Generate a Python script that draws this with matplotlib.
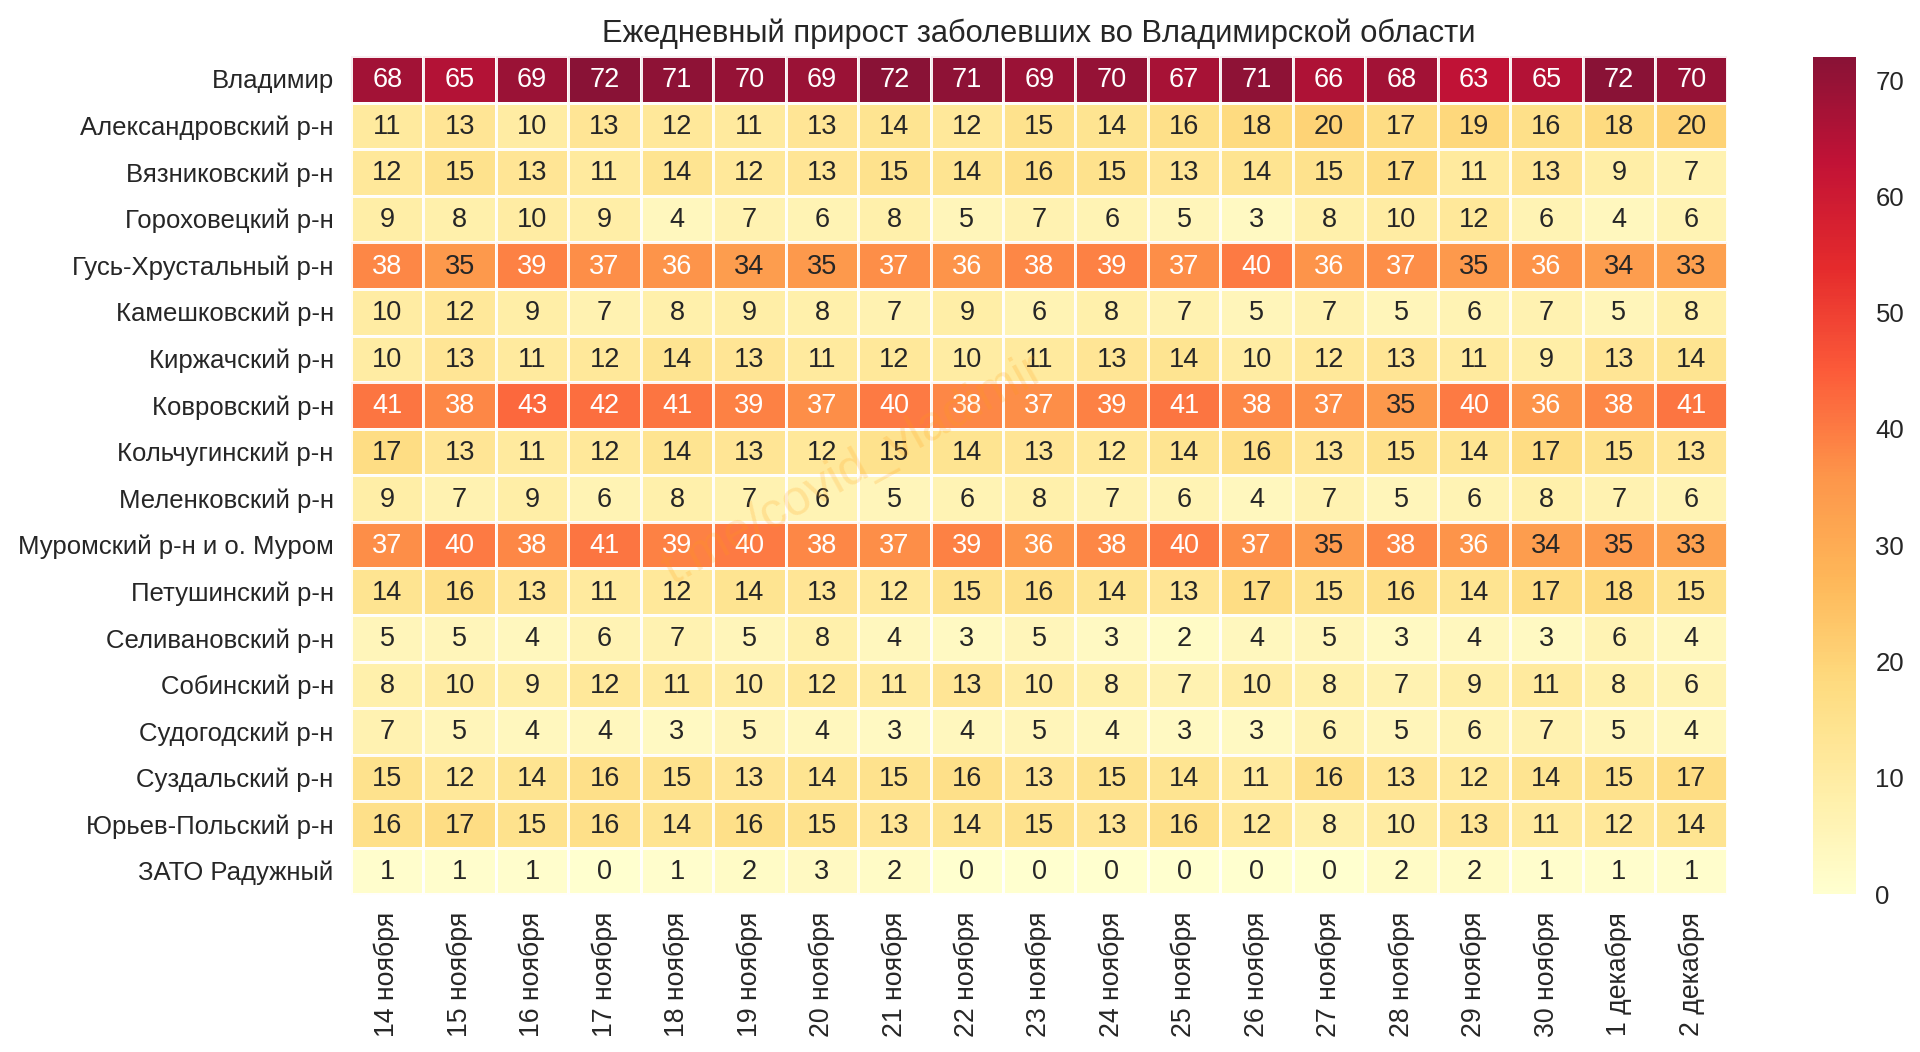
import matplotlib
matplotlib.use("Agg")
import matplotlib.pyplot as plt
from matplotlib.transforms import ScaledTranslation
import seaborn as sns
import numpy as np

districts = ["Владимир", "Александровский р-н", "Вязниковский р-н", "Гороховецкий р-н",
             "Гусь-Хрустальный р-н", "Камешковский р-н", "Киржачский р-н", "Ковровский р-н",
             "Кольчугинский р-н", "Меленковский р-н", "Муромский р-н и о. Муром",
             "Петушинский р-н", "Селивановский р-н", "Собинский р-н", "Судогодский р-н",
             "Суздальский р-н", "Юрьев-Польский р-н", "ЗАТО Радужный"]
dates = ["14 ноября", "15 ноября", "16 ноября", "17 ноября", "18 ноября", "19 ноября",
         "20 ноября", "21 ноября", "22 ноября", "23 ноября", "24 ноября", "25 ноября",
         "26 ноября", "27 ноября", "28 ноября", "29 ноября", "30 ноября", "1 декабря", "2 декабря"]

vladimir   = [68,65,69,72,71,70,69,72,71,69,70,67,71,66,68,63,65,72,70]
aleksandr  = [11,13,10,13,12,11,13,14,12,15,14,16,18,20,17,19,16,18,20]
vyazniki   = [12,15,13,11,14,12,13,15,14,16,15,13,14,15,17,11,13,9,7]
gorokhovets= [9,8,10,9,4,7,6,8,5,7,6,5,3,8,10,12,6,4,6]
gus        = [38,35,39,37,36,34,35,37,36,38,39,37,40,36,37,35,36,34,33]
kameshkovo = [10,12,9,7,8,9,8,7,9,6,8,7,5,7,5,6,7,5,8]
kirzhach   = [10,13,11,12,14,13,11,12,10,11,13,14,10,12,13,11,9,13,14]
kovrov     = [41,38,43,42,41,39,37,40,38,37,39,41,38,37,35,40,36,38,41]
kolchugino = [17,13,11,12,14,13,12,15,14,13,12,14,16,13,15,14,17,15,13]
melenki    = [9,7,9,6,8,7,6,5,6,8,7,6,4,7,5,6,8,7,6]
murom      = [37,40,38,41,39,40,38,37,39,36,38,40,37,35,38,36,34,35,33]
petushki   = [14,16,13,11,12,14,13,12,15,16,14,13,17,15,16,14,17,18,15]
selivanovo = [5,5,4,6,7,5,8,4,3,5,3,2,4,5,3,4,3,6,4]
sobinka    = [8,10,9,12,11,10,12,11,13,10,8,7,10,8,7,9,11,8,6]
sudogda    = [7,5,4,4,3,5,4,3,4,5,4,3,3,6,5,6,7,5,4]
suzdal     = [15,12,14,16,15,13,14,15,16,13,15,14,11,16,13,12,14,15,17]
yuryev     = [16,17,15,16,14,16,15,13,14,15,13,16,12,8,10,13,11,12,14]
raduzhny   = [1,1,1,0,1,2,3,2,0,0,0,0,0,0,2,2,1,1,1]

values = np.array([vladimir, aleksandr, vyazniki, gorokhovets, gus, kameshkovo, kirzhach,
                   kovrov, kolchugino, melenki, murom, petushki, selivanovo, sobinka,
                   sudogda, suzdal, yuryev, raduzhny])

FONT = ["Liberation Sans", "DejaVu Sans"]
plt.rcParams["font.family"] = FONT
plt.rcParams["text.color"] = ".15"
plt.rcParams["xtick.color"] = ".15"
plt.rcParams["ytick.color"] = ".15"

W, H = 1920, 1052
fig = plt.figure(figsize=(W/100, H/100), dpi=100)
ax = fig.add_axes([351/W, 1-894.5/H, (1727.5-351)/W, (894.5-56)/H])
cax = fig.add_axes([1813/W, 1-894/H, (1856-1813)/W, (894-57)/H])

sns.heatmap(values, ax=ax, cbar_ax=cax, cmap="YlOrRd", alpha=0.93, annot=True, fmt="d",
            linewidths=2, linecolor="white", annot_kws={"fontsize": 19.5},
            xticklabels=dates, yticklabels=districts)

ax.tick_params(axis="y", length=0, labelsize=18.5, pad=12.5)
ax.tick_params(axis="x", length=0, labelsize=19.2, pad=12.5)
ax.set_yticklabels(districts, rotation=0, fontsize=18.5)
ax.set_xticklabels(dates, rotation=90, fontsize=19.2)
ax.set_title("Ежедневный прирост заболевших во Владимирской области", fontsize=22.2, pad=10)

shift = ScaledTranslation(0, -2/100, fig.dpi_scale_trans)
for lab in ax.get_yticklabels():
    lab.set_transform(lab.get_transform() + shift)
for txt in ax.texts:
    txt.set_transform(txt.get_transform() + ScaledTranslation(0, -1/100, fig.dpi_scale_trans))

cax.tick_params(length=0, labelsize=18.5, pad=14)
cax.set_yticks([0, 10, 20, 30, 40, 50, 60, 70])
solids = cax.collections[0]
solids.set_edgecolor("face")
solids.set_linewidth(1.0)
solids.set_antialiased(True)

fig.text(853/W, 1-470/H, "t.me/covid_vladimir", fontsize=36, color="#ff9d14", alpha=0.2,
         rotation=29, rotation_mode="anchor", ha="center", va="center", zorder=10)

fig.savefig("out.png", dpi=100)
